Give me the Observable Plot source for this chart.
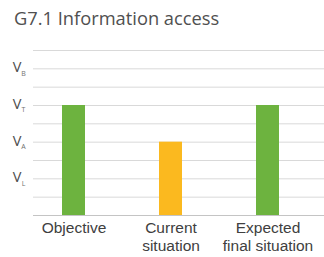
<!DOCTYPE html>
<html>
<head>
<meta charset="utf-8">
<script src="https://cdn.jsdelivr.net/npm/d3@7"></script>
<script src="https://cdn.jsdelivr.net/npm/@observablehq/plot@0.6"></script>
<style>
  html, body { margin: 0; padding: 0; background: #fff; }
  #title { height: 40px; box-sizing: border-box; padding: 6px 0 0 14px; font-family: "Open Sans", sans-serif; font-size: 18.3px; color: #505050; line-height: 24px; }
  svg { display: block; }
</style>
</head>
<body>
<div id="title">G7.1 Information access</div>
<div id="chart"></div>
<script>
const categories = ["Objective", "Current\nsituation", "Expected\nfinal situation"];
const values = [6, 4, 6];
const colors = ["#6db33f", "#fbb91f", "#6db33f"];
const gridValues = [1, 2, 3, 4, 5, 6, 7, 8, 9];
const yLabelValues = [2, 4, 6, 8];
const yLabelSubs = ["L", "A", "T", "B"];

const bars = categories.map((c, i) => ({category: c, value: values[i], color: colors[i]}));
const yLabels = yLabelValues.map((v, i) => ({value: v, sub: yLabelSubs[i]}));

const chart = Plot.plot({
  width: 324,
  height: 217,
  marginTop: 10,
  marginBottom: 42,
  marginLeft: 33,
  marginRight: 0,
  style: {fontFamily: "Open Sans, sans-serif", background: "#fff"},
  x: {domain: categories, range: [33, 308], paddingInner: 0.765, paddingOuter: 0.29},
  y: {domain: [0, 9], axis: null},
  marks: [
    Plot.ruleY(gridValues, {stroke: "#d9d9d9", strokeWidth: 1}),
    Plot.ruleY([0], {stroke: "#c4c4c4", strokeWidth: 1}),
    Plot.barY(bars, {x: "category", y: "value", fill: "color"}),
    Plot.text(yLabels, {y: "value", text: () => "V", frameAnchor: "left", dx: -16.5, dy: -1, textAnchor: "middle", fontSize: 14.5, fill: "#4d4d4d"}),
    Plot.text(yLabels, {y: "value", text: "sub", frameAnchor: "left", dx: -10, dy: 4.5, textAnchor: "middle", fontSize: 7, fill: "#707070"}),
    Plot.axisX({tickSize: 0, tickPadding: 5, fontSize: 15.5, fontFamily: "Liberation Sans, Arial, sans-serif", fill: "#404040", lineHeight: 1.16, label: null, tickFormat: d => d})
  ]
});
document.getElementById("chart").appendChild(chart);
</script>
</body>
</html>
